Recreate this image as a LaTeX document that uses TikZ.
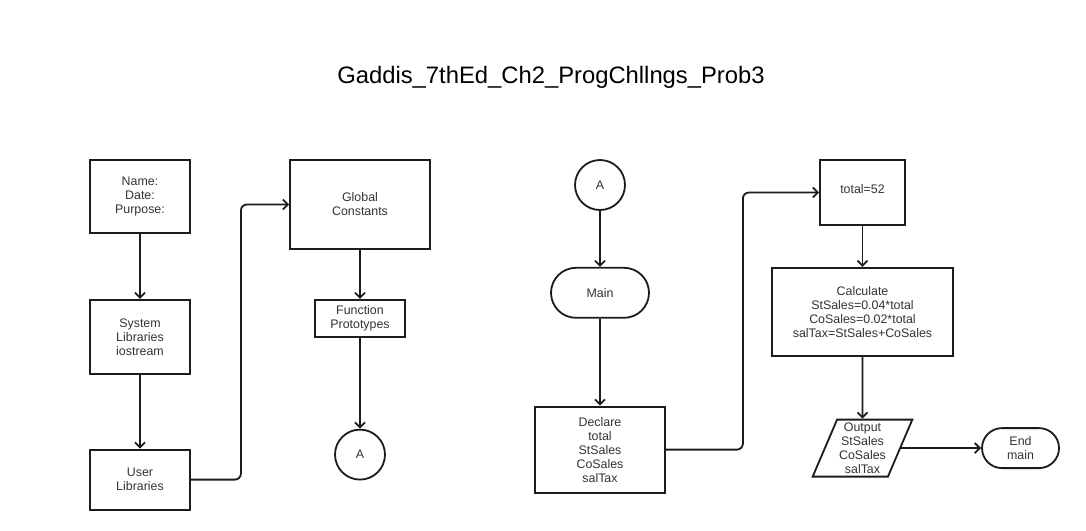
\documentclass[tikz,border=0pt]{standalone}
\usepackage{fontspec}
\setmainfont{Liberation Sans}
\usetikzlibrary{positioning, shapes.geometric, shapes.misc, arrows.meta, calc}
\definecolor{ink}{HTML}{1c1c1c}
\definecolor{txt}{HTML}{333333}

\begin{document}
\begin{tikzpicture}[
  x=1pt, y=1pt,
  font=\fontsize{12.4}{14}\selectfont, text=txt,
  proc/.style={draw=ink, line width=1.8pt, fill=white, align=center, inner sep=2pt},
  term/.style={proc, rounded rectangle},
  conn/.style={proc, circle, minimum size=50pt},
  io/.style={proc, trapezium, trapezium left angle=66, trapezium right angle=114,
             trapezium stretches=true},
  arr/.style={-{Straight Barb[length=5pt,width=10pt]}, line width=1.8pt, ink},
  elbow/.style={arr, rounded corners=6pt}
]
  \useasboundingbox[fill=white] (0,0) rectangle (1086,-530);

  \node[font=\fontsize{23.8}{28}\selectfont, text=black] (title) at (551,-77)
    {Gaddis\_7thEd\_Ch2\_ProgChllngs\_Prob3};

  % Left column
  \node[proc, minimum width=100pt, minimum height=73pt] (hdr) at (140,-196.5)
    {Name:\\Date:\\Purpose:};
  \node[proc, minimum width=100pt, minimum height=74pt, below=65pt of hdr] (syslib)
    {System\\Libraries\\iostream};
  \node[proc, minimum width=100pt, minimum height=60pt, below=74pt of syslib] (usrlib)
    {User\\Libraries};

  % Globals
  \node[proc, minimum width=140pt, minimum height=89pt] (glob) at (360,-204.5)
    {Global\\Constants};
  \node[proc, minimum width=90pt, minimum height=37pt, below=49pt of glob] (proto)
    {Function\\Prototypes};
  \node[conn, below=91pt of proto] (offA) {A};

  % Main
  \node[conn] (onA) at (600,-185) {A};
  \node[term, minimum width=102pt, minimum height=50pt, below=56pt of onA] (main) {Main};
  \node[proc, minimum width=130pt, minimum height=86pt, below=87pt of main] (decl)
    {Declare\\total\\StSales\\CoSales\\salTax};

  % Body
  \node[proc, minimum width=85pt, minimum height=65pt, text depth=6pt] (total)
    at (862.5,-192.5) {total=52};
  \node[proc, minimum width=181pt, minimum height=88pt, below=41pt of total] (calc)
    {Calculate\\StSales=0.04*total\\CoSales=0.02*total\\salTax=StSales+CoSales};
  \node[io, minimum width=95pt, minimum height=57pt, below=62pt of calc] (outp)
    {Output\\StSales\\CoSales\\salTax};
  \node[term, minimum width=81pt, minimum height=40pt, right=80pt of outp] (endm)
    {End\\main};

  % Arrows
  \draw[arr] (hdr) -- (syslib);
  \draw[arr] (syslib) -- (usrlib);
  \draw[elbow] (usrlib.east) -- ++(50,0) |- (glob.west);
  \draw[arr] (glob) -- (proto);
  \draw[arr] (proto) -- (offA);
  \draw[arr] (onA) -- (main);
  \draw[arr] (main) -- (decl);
  \draw[elbow] (decl.east) -- ++(77,0) |- (total.west);
  \draw[arr] (total) -- (calc);
  \draw[arr] (calc) -- (outp);
  \draw[arr] (outp.east) -- (endm.west);
\end{tikzpicture}
\end{document}
